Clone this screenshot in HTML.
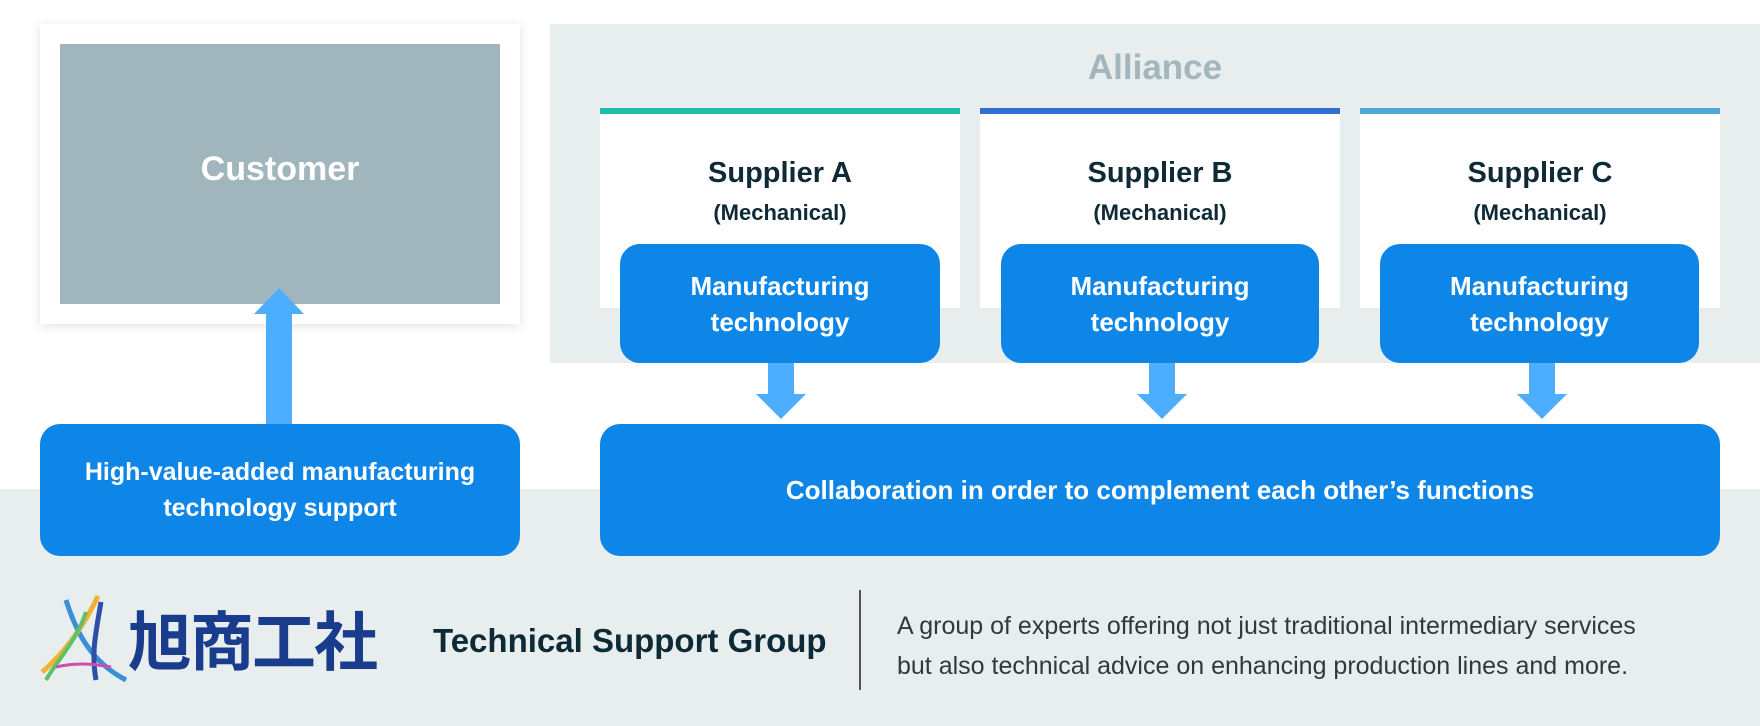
<!DOCTYPE html>
<html><head><meta charset="utf-8"><style>
*{margin:0;padding:0;box-sizing:border-box}
body{width:1760px;height:726px;position:relative;background:#fff;font-family:"Liberation Sans","Noto Sans CJK JP",sans-serif;overflow:hidden}
.a{position:absolute}
.c{display:flex;align-items:center;justify-content:center;text-align:center;flex-direction:column}
.blue{background:#0e86e8;border-radius:20px;color:#fff;font-weight:bold}
.sup{background:#fff;border-top:6px solid}
.sup .t{font-size:29px;font-weight:bold;color:#0e2a36;position:absolute;left:0;right:0;text-align:center}
</style></head><body>
<div class="a" style="left:0;top:489px;width:1760px;height:237px;background:#e8eeee"></div>
<div class="a" style="left:550px;top:24px;width:1210px;height:339px;background:#e8eeee"></div>
<div class="a" style="left:1155px;top:48px;width:0"><div style="position:absolute;left:-150px;width:300px;text-align:center;font-size:35px;font-weight:bold;color:#a3b5bd">Alliance</div></div>

<div class="a" style="left:40px;top:24px;width:480px;height:300px;background:#fff;box-shadow:0 2px 10px rgba(0,0,0,0.12)"></div>
<div class="a c" style="left:60px;top:44px;width:440px;height:260px;background:#a1b5bc;color:#fff;font-size:34px;font-weight:bold;padding-bottom:10px">Customer</div>

<div class="a sup" style="left:600px;top:108px;width:360px;height:200px;border-color:#20bcaa"><div class="t" style="top:43px">Supplier A</div><div class="t" style="top:86px;font-size:22px">(Mechanical)</div></div>
<div class="a sup" style="left:980px;top:108px;width:360px;height:200px;border-color:#2f6fd0"><div class="t" style="top:43px">Supplier B</div><div class="t" style="top:86px;font-size:22px">(Mechanical)</div></div>
<div class="a sup" style="left:1360px;top:108px;width:360px;height:200px;border-color:#4fa8d8"><div class="t" style="top:43px">Supplier C</div><div class="t" style="top:86px;font-size:22px">(Mechanical)</div></div>

<div class="a c blue" style="left:620px;top:244px;width:320px;height:119px;font-size:26px;line-height:36px">Manufacturing<br>technology</div>
<div class="a c blue" style="left:1001px;top:244px;width:318px;height:119px;font-size:26px;line-height:36px">Manufacturing<br>technology</div>
<div class="a c blue" style="left:1380px;top:244px;width:319px;height:119px;font-size:26px;line-height:36px">Manufacturing<br>technology</div>

<svg class="a" style="left:0;top:0" width="1760" height="726">
<g fill="#4dadff">
<polygon points="768,363 794,363 794,394 806,394 781,419 756,394 768,394"/>
<polygon points="1149,363 1175,363 1175,394 1187,394 1162,419 1137,394 1149,394"/>
<polygon points="1529,363 1555,363 1555,394 1567,394 1542,419 1517,394 1529,394"/>
<polygon points="266,424 292,424 292,314 304,314 279,288 254,314 266,314"/>
</g>
</svg>

<div class="a c blue" style="left:40px;top:424px;width:480px;height:132px;font-size:25px;line-height:36px;white-space:nowrap">High-value-added manufacturing<br>technology support</div>
<div class="a c blue" style="left:600px;top:424px;width:1120px;height:132px;font-size:26px;white-space:nowrap">Collaboration in order to complement each other’s functions</div>

<svg class="a" style="left:36px;top:592px" width="100" height="95">
<path d="M30 8 C40 40 55 70 90 88" stroke="#3a8fd8" stroke-width="5" fill="none"/>
<path d="M62 4 C50 30 30 60 6 80" stroke="#f2b134" stroke-width="5" fill="none"/>
<path d="M50 20 C40 50 20 70 10 88" stroke="#5cc26a" stroke-width="4" fill="none"/>
<path d="M65 10 C60 40 55 60 60 88" stroke="#2d4fa8" stroke-width="5" fill="none"/>
<path d="M20 75 C40 70 60 72 75 75" stroke="#c94fb0" stroke-width="3" fill="none"/>
</svg>
<div class="a" style="left:128px;top:596px;font-family:'Noto Sans CJK JP',sans-serif;font-size:64px;font-weight:bold;color:#1a3c8c;line-height:84px;letter-spacing:-2px">旭商工社</div>
<div class="a" style="left:433px;top:622px;font-size:33px;font-weight:bold;color:#0e2a36;white-space:nowrap">Technical Support Group</div>
<div class="a" style="left:859px;top:590px;width:2px;height:100px;background:#555"></div>
<div class="a" style="left:897px;top:606px;font-size:25px;line-height:40px;color:#2e3a40;white-space:nowrap">A group of experts offering not just traditional intermediary services<br>but also technical advice on enhancing production lines and more.</div>
</body></html>
